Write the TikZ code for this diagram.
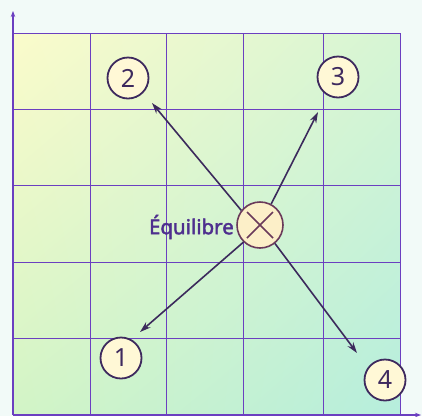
\documentclass[tikz,border=0pt]{standalone}
\usepackage{fontspec}
\newfontfamily\lab{Noto Sans}
\newfontfamily\labb{Noto Sans}[FakeBold=2]
\usetikzlibrary{arrows.meta,shadings}
\definecolor{bgc}{HTML}{F2FAF8}
\definecolor{gridc}{HTML}{6B3FC0}
\definecolor{arrc}{HTML}{3C2A5C}
\definecolor{numc}{HTML}{3E2A5E}
\definecolor{numfill}{HTML}{FFF8D6}
\definecolor{eqc}{HTML}{6A3A5A}
\definecolor{eqfill}{HTML}{FCEFC8}
\definecolor{eqtext}{HTML}{4E2F8E}
\definecolor{cUL}{HTML}{FBFBCB}
\definecolor{cUR}{HTML}{D6F5D4}
\definecolor{cLL}{HTML}{D2F4C6}
\definecolor{cLR}{HTML}{B6EEDD}
\begin{document}
\begin{tikzpicture}[x=1pt,y=-1pt,
  gridline/.style={draw=gridc, line width=1pt},
  axisline/.style={draw=gridc, line width=1.4pt, -{Stealth[length=6pt,width=4.5pt]}},
  num/.style={circle, draw=numc, fill=numfill, line width=1.8pt, minimum size=41pt,
    inner sep=0pt, font=\lab\fontsize{25}{25}\selectfont, text=numc},
  arr/.style={draw=arrc, line width=1.6pt, -{Stealth[length=11pt,width=7pt]}},
  eqcirc/.style={circle, draw=eqc, fill=eqfill, line width=1.6pt, minimum size=46pt, inner sep=0pt},
  eqx/.style={draw=eqc, line width=1.5pt},
]
\useasboundingbox (0,0) rectangle (422,416);
\fill[bgc] (0,0) rectangle (422,416);
\shade[upper left=cUL, upper right=cUR, lower left=cLL, lower right=cLR] (13,33) rectangle (400,415);
% grid
\foreach \xx in {90,166,243,323,400} \draw[gridline] (\xx,33) -- (\xx,415);
\foreach \yy in {33,109,185,262,338} \draw[gridline] (13,\yy) -- (400,\yy);
% axes
\coordinate (O) at (13,415);
\coordinate (ytip) at (13,11);
\coordinate (xtip) at (421,415);
\draw[axisline] (O) -- (ytip);
\draw[axisline] (O) -- (xtip);
% centre
\node[eqcirc] (eq) at (260,225) {};
\draw[eqx] ([shift={(-13,-13)}]eq.center) -- ([shift={(13,13)}]eq.center);
\draw[eqx] ([shift={(-13,13)}]eq.center) -- ([shift={(13,-13)}]eq.center);
\node[anchor=east, inner sep=0pt, text=eqtext, font=\labb\fontsize{20.5}{20.5}\selectfont] (lab) at (234,227) {Équilibre};
% numbered circles
\node[num] (n1) at (121,358) {1};
\node[num] (n2) at (128,78) {2};
\node[num] (n3) at (338,77) {3};
\node[num] (n4) at (385,380) {4};
% arrow ends
\coordinate (t1) at (140,332);
\coordinate (t2) at (152,103);
\coordinate (t3) at (318,112);
\coordinate (t4) at (357,353);
\draw[arr] (eq.142) -- (t2);
\draw[arr] (eq.62) -- (t3);
\draw[arr] (eq.226) -- (t1);
\draw[arr] (eq.309) -- (t4);
\end{tikzpicture}
\end{document}
